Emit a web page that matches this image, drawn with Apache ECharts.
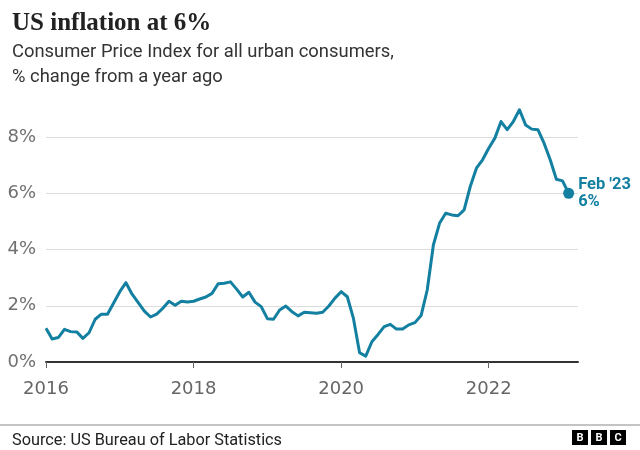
<!DOCTYPE html>
<html>
<head>
<meta charset="utf-8">
<script src="https://cdn.jsdelivr.net/npm/echarts@6/dist/echarts.min.js"></script>
<style>
html,body{margin:0;padding:0;background:#fff;}
#c{width:640px;height:450px;}
</style>
</head>
<body>
<div id="c"></div>
<script>
// Monthly CPI-U, % change from a year ago
const startYear = 2016;
const v2016 = [1.2, 0.82, 0.87, 1.16, 1.08, 1.07, 0.84, 1.04, 1.52, 1.7, 1.7, 2.1];
const v2017 = [2.5, 2.82, 2.41, 2.11, 1.81, 1.6, 1.7, 1.91, 2.16, 2.02, 2.16, 2.13];
const v2018 = [2.16, 2.24, 2.31, 2.44, 2.78, 2.8, 2.85, 2.59, 2.31, 2.48, 2.13, 1.97];
const v2019 = [1.54, 1.52, 1.85, 1.99, 1.79, 1.64, 1.77, 1.75, 1.73, 1.77, 1.99, 2.27];
const v2020 = [2.5, 2.32, 1.55, 0.33, 0.21, 0.72, 0.98, 1.26, 1.34, 1.17, 1.17, 1.32];
const v2021 = [1.4, 1.65, 2.56, 4.16, 4.93, 5.29, 5.23, 5.2, 5.41, 6.24, 6.89, 7.19];
const v2022 = [7.6, 7.96, 8.55, 8.26, 8.55, 8.97, 8.43, 8.28, 8.26, 7.78, 7.19, 6.5];
const v2023 = [6.44, 6.0];
const yTicks = [0, 2, 4, 6, 8];
const xTicks = [2016, 2018, 2020, 2022];
const endLabelText = "Feb '23\n6%";

const values = [].concat(v2016, v2017, v2018, v2019, v2020, v2021, v2022, v2023);
const seriesData = values.map((v, i) => [startYear + i / 12, v]);
const lastPoint = seriesData[seriesData.length - 1];

const teal = '#1380A1';
const sans = 'Roboto';
const axisFont = 'DejaVu Sans';
const chart = echarts.init(document.getElementById('c'), null, {renderer: 'canvas'});
chart.setOption({
  animation: false,
  backgroundColor: '#fff',
  title: [
    {text: 'US inflation at 6%', left: 7, top: 6,
     textStyle: {fontFamily: 'Liberation Serif', fontWeight: 'bold', fontSize: 25, color: '#222'}},
    {text: 'Consumer Price Index for all urban consumers,\n% change from a year ago', left: 7, top: 35,
     textStyle: {fontFamily: sans, fontWeight: 'normal', fontSize: 18.4, color: '#333', lineHeight: 25}},
    {text: 'Source: US Bureau of Labor Statistics', left: 7, top: 428,
     textStyle: {fontFamily: sans, fontWeight: 'normal', fontSize: 16.3, color: '#222'}}
  ],
  grid: {left: 46, right: 62, top: 137, bottom: 88, containLabel: false},
  xAxis: {
    type: 'value', min: startYear, max: 2023.21, interval: 2,
    axisLine: {show: true, lineStyle: {color: '#333', width: 2}},
    axisTick: {show: true, customValues: xTicks, length: 6, lineStyle: {color: '#666', width: 1}},
    axisLabel: {customValues: xTicks, color: '#666', fontSize: 18, fontFamily: axisFont, margin: 18,
      formatter: v => String(Math.round(v))},
    splitLine: {show: false}
  },
  yAxis: {
    type: 'value', min: 0, max: 8, interval: 2,
    axisLine: {show: false}, axisTick: {show: false},
    axisLabel: {color: '#707070', fontSize: 18, fontFamily: axisFont, margin: 10,
      formatter: v => yTicks.indexOf(v) >= 0 ? v + '%' : ''},
    splitLine: {show: true, lineStyle: {color: '#dcdcdc', width: 1}}
  },
  series: [
    {type: 'line', data: seriesData, showSymbol: false, clip: false,
     lineStyle: {color: teal, width: 3, join: 'round'}, z: 3},
    {type: 'scatter', data: [lastPoint], symbolSize: 11, itemStyle: {color: teal, opacity: 1}, clip: false, z: 4,
     label: {show: true, position: 'right', distance: 4, formatter: endLabelText,
       color: teal, fontWeight: 'bold', fontSize: 16.5, fontFamily: sans, lineHeight: 17}}
  ],
  graphic: [
    {type: 'line', shape: {x1: 0, y1: 425, x2: 640, y2: 425}, style: {stroke: '#888', lineWidth: 1}},
    {type: 'group', left: 572, top: 430, children: [
      {type: 'rect', shape: {x: 0, y: 0, width: 16, height: 15}, style: {fill: '#000'}},
      {type: 'text', x: 8, y: 8, style: {text: 'B', fill: '#fff', font: 'bold 11px Roboto', align: 'center', verticalAlign: 'middle'}},
      {type: 'rect', shape: {x: 19, y: 0, width: 16, height: 15}, style: {fill: '#000'}},
      {type: 'text', x: 27, y: 8, style: {text: 'B', fill: '#fff', font: 'bold 11px Roboto', align: 'center', verticalAlign: 'middle'}},
      {type: 'rect', shape: {x: 38, y: 0, width: 16, height: 15}, style: {fill: '#000'}},
      {type: 'text', x: 46, y: 8, style: {text: 'C', fill: '#fff', font: 'bold 11px Roboto', align: 'center', verticalAlign: 'middle'}}
    ]}
  ]
});
</script>
</body>
</html>
